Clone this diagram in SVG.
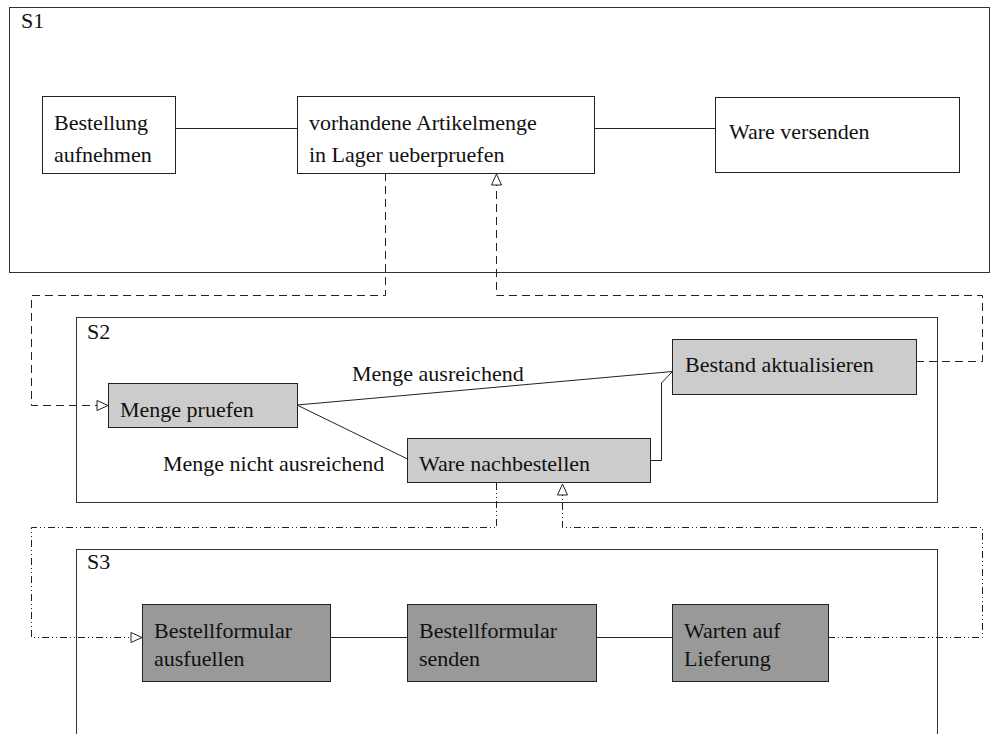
<svg xmlns="http://www.w3.org/2000/svg" width="991" height="734" viewBox="0 0 991 734">
  <style>
    text { font-family: "Liberation Serif", "Times New Roman", serif; font-size: 22px; fill: #111; }
    .frame { fill: none; stroke: #333; stroke-width: 1; }
    .box { stroke: #222; stroke-width: 1; }
    .white { fill: #fff; }
    .light { fill: #cccccc; }
    .dark { fill: #999999; }
    .solid { fill: none; stroke: #222; stroke-width: 1; }
    .dash { fill: none; stroke: #222; stroke-width: 1; stroke-dasharray: 8 5; }
    .dashdot { fill: none; stroke: #222; stroke-width: 1; stroke-dasharray: 7 3 1 3 1 3; }
  </style>
  <defs>
    <marker id="hollow" markerUnits="userSpaceOnUse" markerWidth="13" markerHeight="12" refX="11" refY="5" orient="auto" viewBox="-1 -1 13 12">
      <path d="M0,0 L11,5 L0,10 Z" fill="#fff" stroke="#222" stroke-width="1" stroke-dasharray="none"/>
    </marker>
  </defs>

  <rect width="991" height="734" fill="#fff"/>

  <!-- swimlane frames -->
  <g id="S1">
    <rect class="frame" x="9.5" y="7.5" width="980" height="265"/>
    <text x="21" y="28">S1</text>
  </g>
  <g id="S2">
    <rect class="frame" x="76.5" y="317.5" width="861" height="185"/>
    <text x="87" y="339">S2</text>
  </g>
  <g id="S3">
    <rect class="frame" x="76.5" y="549.5" width="861" height="200"/>
    <text x="87" y="569">S3</text>
  </g>

  <!-- connectors -->
  <g id="connectors">
    <!-- S1 flow -->
    <line class="solid" x1="175" y1="128.5" x2="297" y2="128.5"/>
    <line class="solid" x1="594" y1="128.5" x2="715" y2="128.5"/>
    <!-- S2 flow -->
    <polyline class="solid" points="297,405 672.5,371.5"/>
    <polyline class="solid" points="297,405 407.5,459"/>
    <polyline class="solid" points="650.5,460.5 661.5,460.5 661.5,383 672.5,371.5"/>
    <!-- S3 flow -->
    <line class="solid" x1="330" y1="637.5" x2="407" y2="637.5"/>
    <line class="solid" x1="596" y1="637.5" x2="672" y2="637.5"/>
    <!-- S1 -> S2 -->
    <polyline class="dash" points="385.5,173 385.5,295.5 31.5,295.5 31.5,405.5 108,405.5" marker-end="url(#hollow)"/>
    <!-- S2 -> S1 -->
    <polyline class="dash" points="916,361.5 982.5,361.5 982.5,295.5 496.5,295.5 496.5,174" marker-end="url(#hollow)"/>
    <!-- S2 -> S3 -->
    <polyline class="dashdot" points="496.5,483 496.5,527.5 31.5,527.5 31.5,637.5 142,637.5" marker-end="url(#hollow)"/>
    <!-- S3 -> S2 -->
    <polyline class="dashdot" points="828,637.5 982.5,637.5 982.5,527.5 562.5,527.5 562.5,484" marker-end="url(#hollow)"/>
  </g>

  <!-- S1 activities -->
  <g id="bestellung-aufnehmen">
    <rect class="box white" x="42.5" y="96.5" width="133" height="77"/>
    <text x="54" y="130">Bestellung</text>
    <text x="54" y="162">aufnehmen</text>
  </g>
  <g id="artikelmenge-pruefen">
    <rect class="box white" x="297.5" y="96.5" width="297" height="77"/>
    <text x="309" y="130">vorhandene Artikelmenge</text>
    <text x="309" y="162">in Lager ueberpruefen</text>
  </g>
  <g id="ware-versenden">
    <rect class="box white" x="715.5" y="97.5" width="244" height="75"/>
    <text x="729" y="139">Ware versenden</text>
  </g>

  <!-- S2 activities -->
  <g id="menge-pruefen">
    <rect class="box light" x="108.5" y="383.5" width="189" height="44"/>
    <text x="120" y="417">Menge pruefen</text>
  </g>
  <g id="bestand-aktualisieren">
    <rect class="box light" x="672.5" y="339.5" width="244" height="55"/>
    <text x="685" y="372">Bestand aktualisieren</text>
  </g>
  <g id="ware-nachbestellen">
    <rect class="box light" x="407.5" y="438.5" width="243" height="44"/>
    <text x="419" y="471">Ware nachbestellen</text>
  </g>
  <g id="labels">
    <text x="352" y="381">Menge ausreichend</text>
    <text x="163" y="471">Menge nicht ausreichend</text>
  </g>

  <!-- S3 activities -->
  <g id="formular-ausfuellen">
    <rect class="box dark" x="142.5" y="604.5" width="188" height="77"/>
    <text x="154" y="638">Bestellformular</text>
    <text x="154" y="666">ausfuellen</text>
  </g>
  <g id="formular-senden">
    <rect class="box dark" x="407.5" y="604.5" width="189" height="77"/>
    <text x="419" y="638">Bestellformular</text>
    <text x="419" y="666">senden</text>
  </g>
  <g id="warten-lieferung">
    <rect class="box dark" x="672.5" y="604.5" width="156" height="77"/>
    <text x="684" y="638">Warten auf</text>
    <text x="684" y="666">Lieferung</text>
  </g>
</svg>
